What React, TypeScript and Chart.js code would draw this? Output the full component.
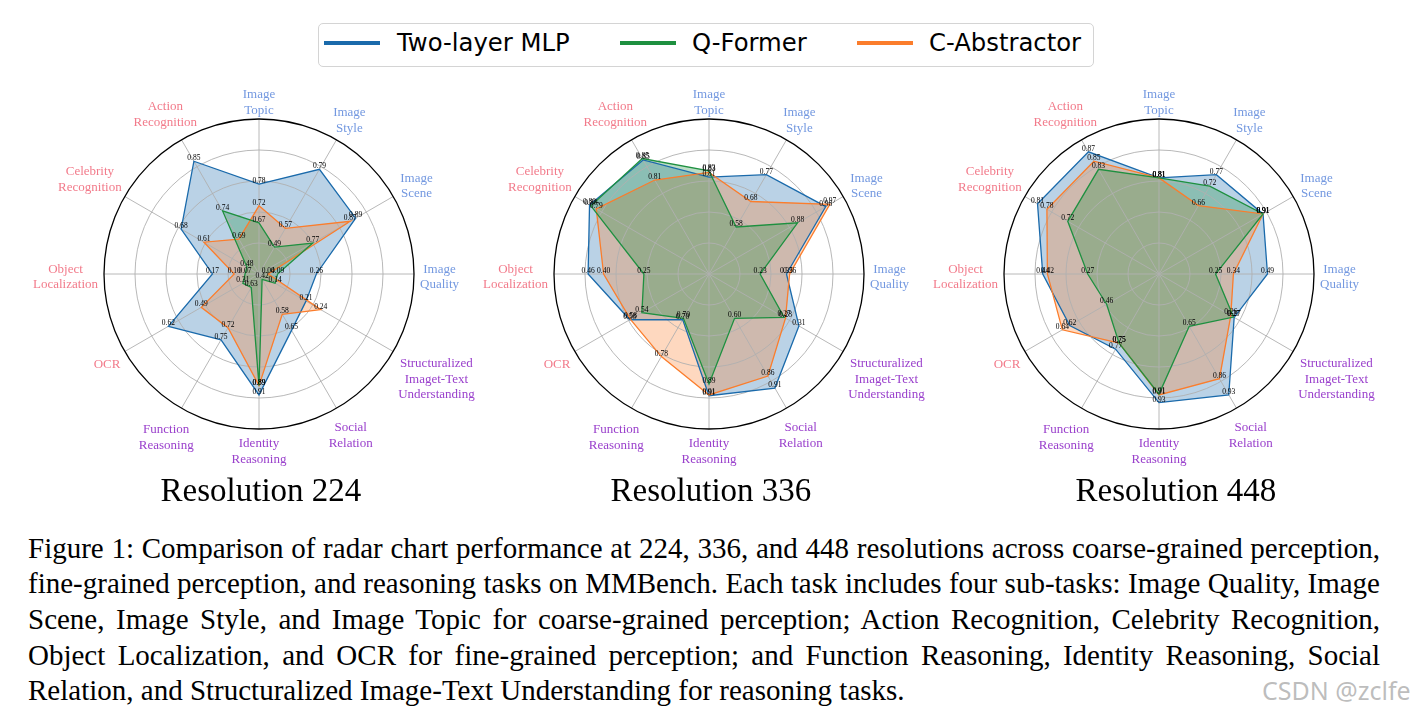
import React, { useEffect, useRef } from "react";
import { Chart, registerables } from "chart.js";

Chart.register(...registerables);

// ---------- data ----------
const categoryLabels: string[][] = [
  ["Image", "Topic"],
  ["Image", "Style"],
  ["Image", "Scene"],
  ["Image", "Quality"],
  ["Structuralized", "Imaget-Text", "Understanding"],
  ["Social", "Relation"],
  ["Identity", "Reasoning"],
  ["Function", "Reasoning"],
  ["OCR"],
  ["Object", "Localization"],
  ["Celebrity", "Recognition"],
  ["Action", "Recognition"],
];
const categoryGroups = [
  "coarse", "coarse", "coarse", "coarse",
  "reasoning", "reasoning", "reasoning", "reasoning",
  "fine", "fine", "fine", "fine",
];
const groupColors: Record<string, string> = {
  coarse: "#7398e0",
  fine: "#f27a8a",
  reasoning: "#9a40cc",
};

const seriesNames = ["Two-layer MLP", "Q-Former", "C-Abstractor"];
const seriesColors = ["#1a6aab", "#1e9040", "#fb7d2c"];
const resolutionTitles = ["Resolution 224", "Resolution 336", "Resolution 448"];

// scores printed at each vertex
const mlpScore224 = [0.78, 0.79, 0.89, 0.26, 0.21, 0.65, 0.91, 0.75, 0.62, 0.17, 0.68, 0.85];
const qformerScore224 = [0.67, 0.49, 0.77, 0.09, 0.14, 0.42, 0.89, 0.63, 0.31, 0.07, 0.48, 0.74];
const cabsScore224 = [0.72, 0.57, 0.87, 0.04, 0.24, 0.58, 0.89, 0.72, 0.49, 0.10, 0.61, 0.69];
// normalized radial position of each vertex
const mlpRadius224 = [0.58, 0.78, 0.72, 0.37, 0.35, 0.42, 0.78, 0.49, 0.675, 0.30, 0.58, 0.84];
const qformerRadius224 = [0.33, 0.20, 0.40, 0.12, 0.12, 0.04, 0.72, 0.10, 0.12, 0.09, 0.09, 0.47];
const cabsRadius224 = [0.44, 0.34, 0.68, 0.06, 0.46, 0.30, 0.72, 0.40, 0.43, 0.16, 0.41, 0.26];

const mlpScore336 = [0.81, 0.77, 0.96, 0.35, 0.31, 0.91, 0.91, 0.70, 0.58, 0.46, 0.80, 0.85];
const qformerScore336 = [0.83, 0.58, 0.88, 0.23, 0.27, 0.60, 0.89, 0.70, 0.54, 0.25, 0.80, 0.85];
const cabsScore336 = [0.83, 0.68, 0.97, 0.36, 0.28, 0.86, 0.91, 0.78, 0.58, 0.40, 0.79, 0.81];
const mlpRadius336 = [0.625, 0.74, 0.87, 0.50, 0.67, 0.85, 0.785, 0.34, 0.59, 0.78, 0.89, 0.85];
const qformerRadius336 = [0.665, 0.35, 0.66, 0.33, 0.56, 0.33, 0.71, 0.33, 0.50, 0.42, 0.88, 0.86];
const cabsRadius336 = [0.655, 0.54, 0.90, 0.52, 0.57, 0.76, 0.78, 0.615, 0.585, 0.68, 0.84, 0.70];

const mlpScore448 = [0.81, 0.77, 0.91, 0.49, 0.27, 0.93, 0.93, 0.77, 0.62, 0.44, 0.81, 0.87];
const qformerScore448 = [0.81, 0.72, 0.91, 0.25, 0.27, 0.65, 0.91, 0.75, 0.46, 0.27, 0.72, 0.83];
const cabsScore448 = [0.81, 0.66, 0.91, 0.34, 0.26, 0.86, 0.91, 0.75, 0.64, 0.42, 0.78, 0.85];
const mlpRadius448 = [0.62, 0.74, 0.775, 0.70, 0.56, 0.90, 0.83, 0.56, 0.665, 0.75, 0.905, 0.91];
const qformerRadius448 = [0.62, 0.655, 0.775, 0.365, 0.555, 0.39, 0.775, 0.515, 0.39, 0.46, 0.68, 0.78];
const cabsRadius448 = [0.62, 0.51, 0.775, 0.48, 0.535, 0.78, 0.78, 0.515, 0.72, 0.72, 0.835, 0.84];

const captionLines = [
  "Figure 1: Comparison of radar chart performance at 224, 336, and 448 resolutions across coarse-grained perception,",
  "fine-grained perception, and reasoning tasks on MMBench. Each task includes four sub-tasks: Image Quality, Image",
  "Scene, Image Style, and Image Topic for coarse-grained perception; Action Recognition, Celebrity Recognition,",
  "Object Localization, and OCR for fine-grained perception; and Function Reasoning, Identity Reasoning, Social",
  "Relation, and Structuralized Image-Text Understanding for reasoning tasks.",
];

// ---------- helpers ----------
function rgba(hex: string, a: number) {
  const n = parseInt(hex.slice(1), 16);
  return `rgba(${(n >> 16) & 255},${(n >> 8) & 255},${n & 255},${a})`;
}

const SERIF = '"Liberation Serif", "Times New Roman", serif';

function makeGridPlugin() {
  return {
    id: "mplGrid",
    beforeDatasetsDraw(chart: any) {
      const scale = chart.scales.r;
      const ctx = chart.ctx;
      ctx.save();
      ctx.strokeStyle = "#b0b0b0";
      ctx.lineWidth = 0.9;
      scale.ticks.forEach((t: any) => {
        if (t.value <= scale.min + 1e-9 || t.value >= scale.max - 1e-9) return;
        const r = scale.getDistanceFromCenterForValue(t.value);
        ctx.beginPath();
        ctx.arc(scale.xCenter, scale.yCenter, r, 0, Math.PI * 2);
        ctx.stroke();
      });
      const outer = scale.getDistanceFromCenterForValue(scale.max);
      for (let i = 0; i < chart.data.labels.length; i++) {
        const p = scale.getPointPosition(i, outer);
        ctx.beginPath();
        ctx.moveTo(scale.xCenter, scale.yCenter);
        ctx.lineTo(p.x, p.y);
        ctx.stroke();
      }
      ctx.restore();
    },
  };
}

function makeTextPlugin(scores: number[][]) {
  return {
    id: "mplText",
    afterDatasetsDraw(chart: any) {
      const scale = chart.scales.r;
      const ctx = chart.ctx;
      ctx.save();
      // outer spine
      const outer = scale.getDistanceFromCenterForValue(scale.max);
      ctx.strokeStyle = "#000";
      ctx.lineWidth = 1.3;
      ctx.beginPath();
      ctx.arc(scale.xCenter, scale.yCenter, outer, 0, Math.PI * 2);
      ctx.stroke();

      // value labels
      ctx.font = `7.5px ${SERIF}`;
      ctx.fillStyle = "#000";
      ctx.textAlign = "center";
      ctx.textBaseline = "middle";
      chart.data.datasets.forEach((ds: any, di: number) => {
        ds.data.forEach((r: number, i: number) => {
          const p = scale.getPointPositionForValue(i, r);
          ctx.fillText(scores[di][i].toFixed(2), p.x, p.y - 3);
        });
      });

      // category labels
      ctx.font = `13px ${SERIF}`;
      const lineH = 15.6;
      const R = outer + 6;
      categoryLabels.forEach((lines, i) => {
        const a = scale.getIndexAngle(i);
        const dx = Math.sin(a);
        const dy = -Math.cos(a);
        const w = Math.max(...lines.map((l) => ctx.measureText(l).width));
        const h = lines.length * lineH - 4;
        const ox = Math.abs(dx) < 1e-6 ? 0 : -Math.sign(dx) * (w / 2);
        const oy = Math.abs(dy) < 1e-6 ? 0 : -Math.sign(dy) * (h / 2);
        const dot = dx * ox + dy * oy;
        const oo = ox * ox + oy * oy;
        const d = -dot + Math.sqrt(dot * dot - oo + R * R);
        const cx = scale.xCenter + dx * d;
        const cy = scale.yCenter + dy * d + 3;
        ctx.fillStyle = groupColors[categoryGroups[i]];
        lines.forEach((l, k) => {
          ctx.fillText(l, cx, cy + (k - (lines.length - 1) / 2) * lineH);
        });
      });
      ctx.restore();
    },
  };
}

const CANVAS_W = 460;
const CANVAS_H = 420;
const CANVAS_TOP = 64;

function RadarPanel(props: { left: number; scores: number[][]; radii: number[][] }) {
  const ref = useRef<HTMLCanvasElement>(null);
  useEffect(() => {
    if (!ref.current) return;
    const order = [3, 1, 2];
    const chart = new Chart(ref.current, {
      type: "radar",
      data: {
        labels: categoryLabels.map((l) => l.join(" ")),
        datasets: seriesNames.map((name, s) => ({
          label: name,
          data: props.radii[s],
          borderColor: seriesColors[s],
          backgroundColor: rgba(seriesColors[s], 0.3),
          borderWidth: 1.3,
          pointRadius: 0,
          pointHoverRadius: 0,
          fill: true,
          tension: 0,
          order: order[s],
        })),
      },
      options: {
        responsive: false,
        animation: false,
        devicePixelRatio: 1,
        events: [],
        layout: { padding: { left: 80, right: 70, top: 55, bottom: 55 } },
        plugins: {
          legend: { display: false },
          tooltip: { enabled: false },
          title: { display: false },
          filler: { drawTime: "beforeDatasetsDraw" },
        },
        scales: {
          r: {
            min: 0,
            max: 1,
            ticks: { display: false, stepSize: 0.2 },
            grid: { display: false },
            angleLines: { display: false },
            pointLabels: { display: false },
          },
        },
      } as any,
      plugins: [makeGridPlugin(), makeTextPlugin(props.scores)],
    });
    return () => chart.destroy();
  }, []);
  return (
    <canvas
      ref={ref}
      width={CANVAS_W}
      height={CANVAS_H}
      style={{ position: "absolute", left: props.left, top: CANVAS_TOP, width: CANVAS_W, height: CANVAS_H }}
    />
  );
}

const panels = [
  { left: 24, titleCenter: 261, scores: [mlpScore224, qformerScore224, cabsScore224], radii: [mlpRadius224, qformerRadius224, cabsRadius224] },
  { left: 474, titleCenter: 711, scores: [mlpScore336, qformerScore336, cabsScore336], radii: [mlpRadius336, qformerRadius336, cabsRadius336] },
  { left: 924, titleCenter: 1176, scores: [mlpScore448, qformerScore448, cabsScore448], radii: [mlpRadius448, qformerRadius448, cabsRadius448] },
];

const legendHandleLeft = [324, 620, 857];
const legendTextLeft = [397, 692, 929];

export default function App() {
  return (
    <div style={{ position: "absolute", left: 0, top: 0, width: 1418, height: 718, background: "#fff", overflow: "hidden" }}>
      {/* legend */}
      <div
        style={{
          position: "absolute",
          left: 318,
          top: 23,
          width: 776,
          height: 44,
          boxSizing: "border-box",
          border: "1.5px solid #d4d4d4",
          borderRadius: 5,
        }}
      />
      {seriesNames.map((n, i) => (
        <React.Fragment key={n}>
          <div
            style={{
              position: "absolute",
              left: legendHandleLeft[i],
              top: 40.5,
              width: 56,
              height: 4,
              background: seriesColors[i],
            }}
          />
          <div
            style={{
              position: "absolute",
              left: legendTextLeft[i],
              top: 30.5,
              fontFamily: '"DejaVu Sans", sans-serif',
              fontSize: 24.3,
              lineHeight: 1,
              whiteSpace: "nowrap",
              color: "#000",
            }}
          >
            {n}
          </div>
        </React.Fragment>
      ))}

      {panels.map((p, i) => (
        <RadarPanel key={i} left={p.left} scores={p.scores} radii={p.radii} />
      ))}

      {panels.map((p, i) => (
        <div
          key={"t" + i}
          style={{
            position: "absolute",
            left: p.titleCenter - 150,
            width: 300,
            top: 474.3,
            textAlign: "center",
            fontFamily: SERIF,
            fontSize: 33,
            lineHeight: 1,
            color: "#000",
            whiteSpace: "nowrap",
          }}
        >
          {resolutionTitles[i]}
        </div>
      ))}

      <div
        style={{
          position: "absolute",
          left: 28,
          top: 530.5,
          width: 1352,
          fontFamily: SERIF,
          fontSize: 29.0,
          lineHeight: "35.7px",
          color: "#000",
        }}
      >
        {captionLines.map((l, i) => (
          <div
            key={i}
            style={{
              whiteSpace: "nowrap",
              textAlign: i < captionLines.length - 1 ? "justify" : "left",
              textAlignLast: i < captionLines.length - 1 ? "justify" : "left",
            } as any}
          >
            {l}
          </div>
        ))}
      </div>

      <div
        style={{
          position: "absolute",
          left: 1262,
          top: 678,
          fontFamily: '"Noto Sans", sans-serif',
          fontSize: 25,
          lineHeight: 1,
          color: "rgba(160,160,160,0.7)",
          whiteSpace: "nowrap",
        }}
      >
        CSDN @zclfe
      </div>
    </div>
  );
}
